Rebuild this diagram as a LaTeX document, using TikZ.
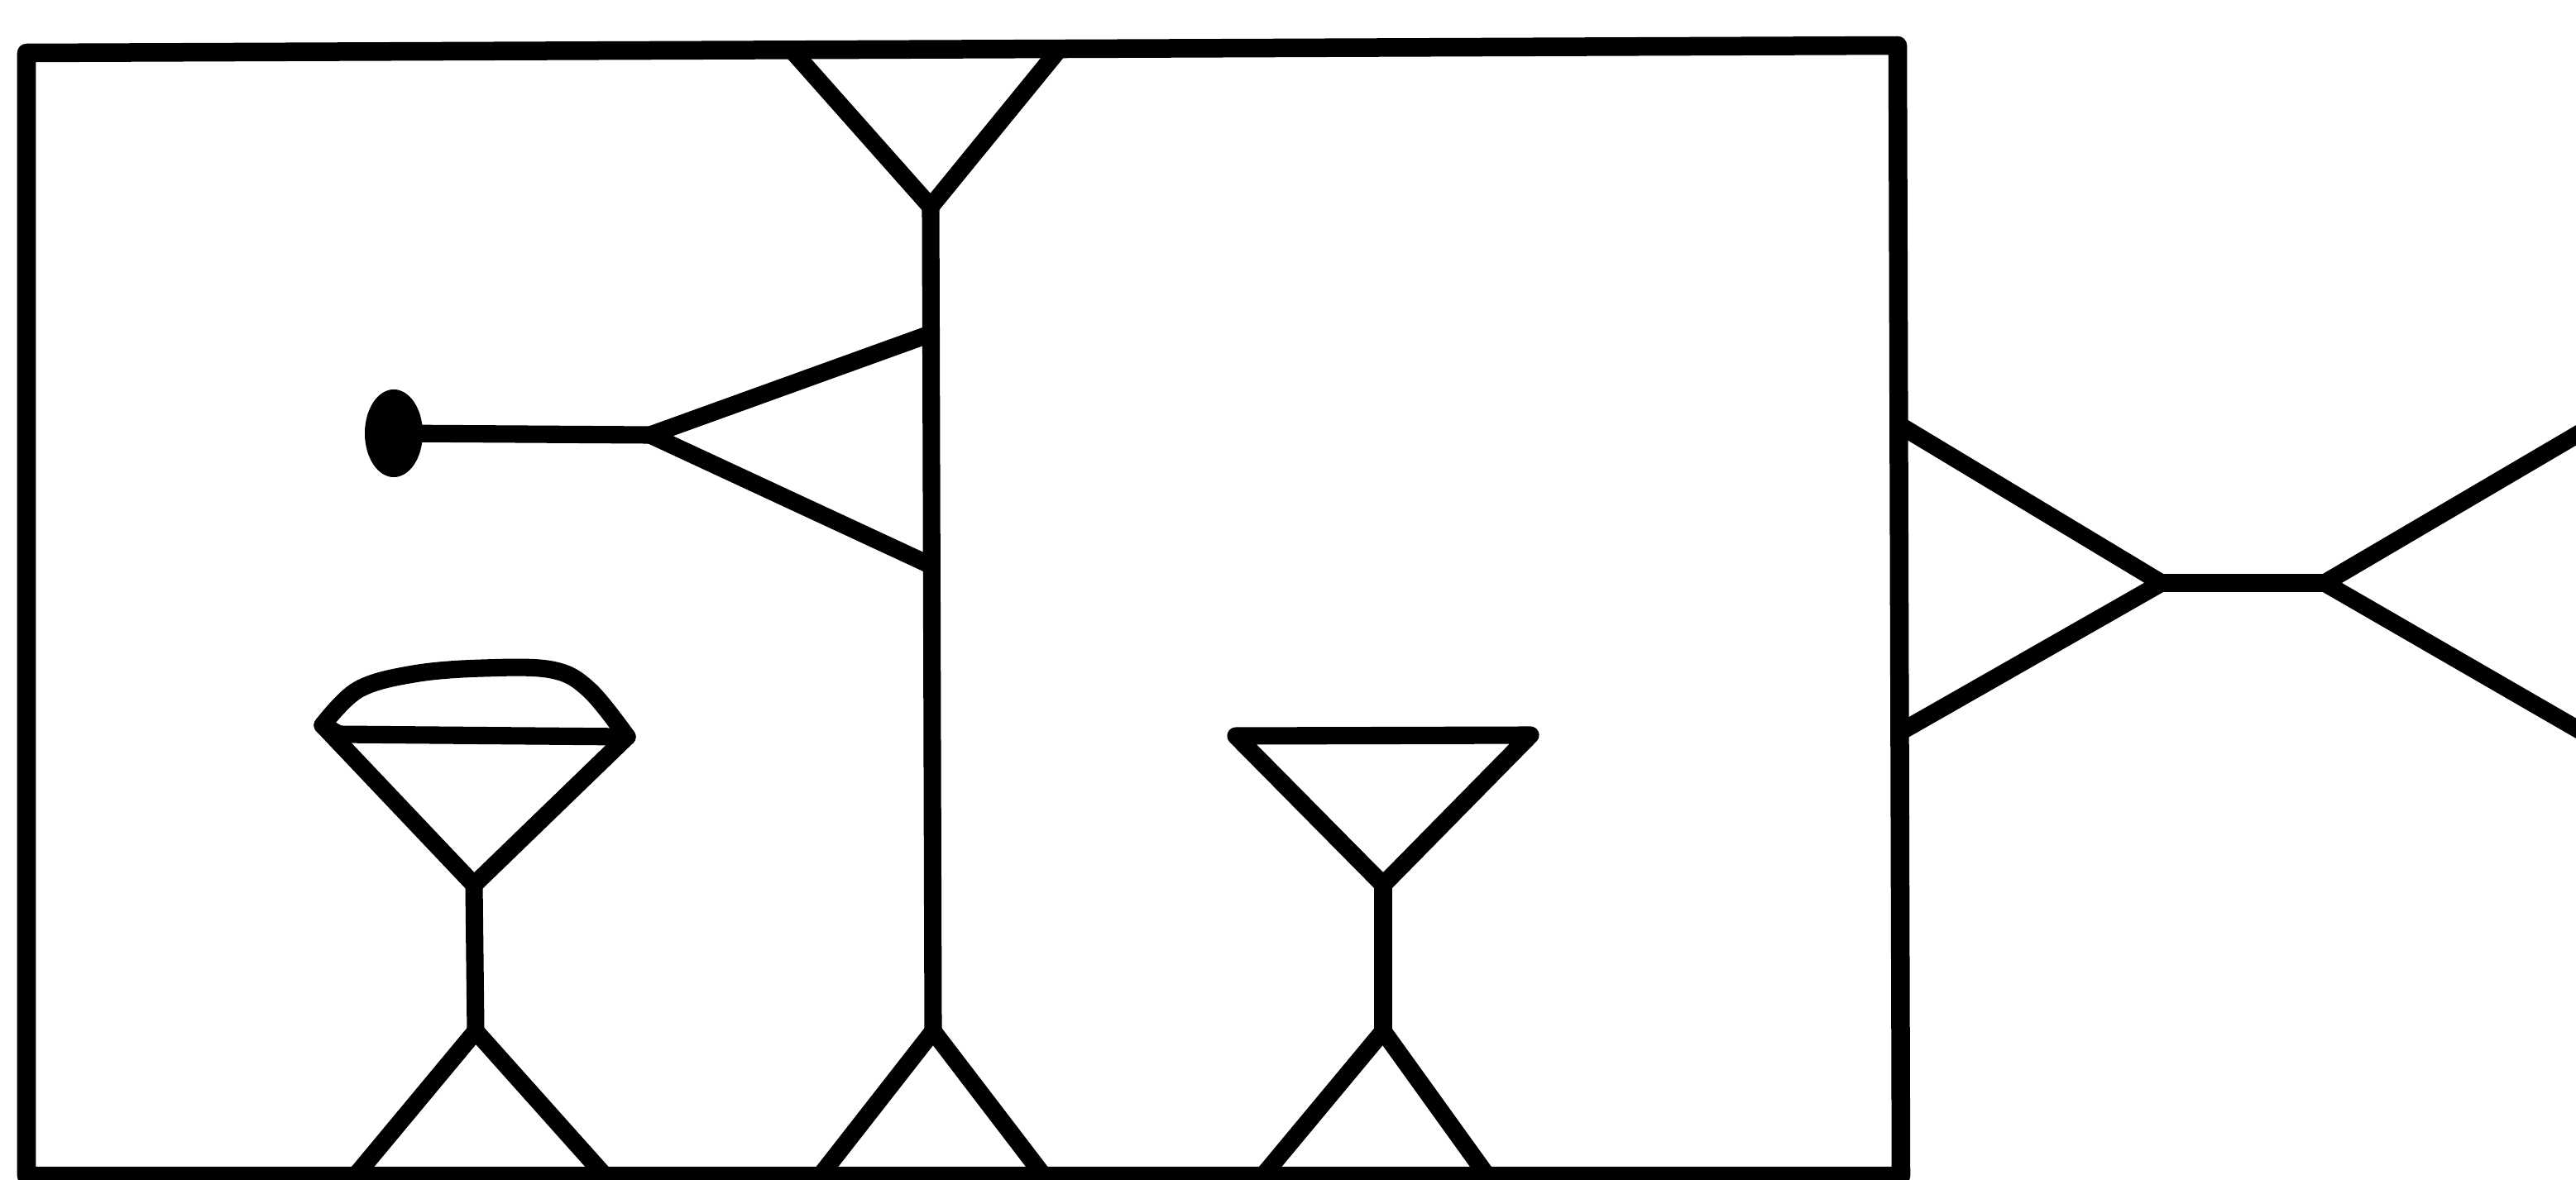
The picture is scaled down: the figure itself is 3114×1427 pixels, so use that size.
\documentclass[tikz,border=0pt]{standalone}
\usetikzlibrary{calc}

\begin{document}
\begin{tikzpicture}[x=0.01cm,y=-0.01cm,line cap=round,line join=round]
  % ----- styles -----
  \tikzset{
    stroke/.style={draw=black,line width=6pt},
    frame/.style={draw=black,line width=6.4pt},
    blob/.style={fill=black}
  }
  \useasboundingbox (0,0) rectangle (3114,1427);
  \clip (0,0) rectangle (3114,1427);

  % ----- geometry -----
  \coordinate (TL) at (32,64);
  \coordinate (TR) at (2294,55);
  \coordinate (BR) at (2298,1422);
  \coordinate (BL) at (32,1422);
  \coordinate (Vtop) at (1125,250);   % apex of the top V
  \coordinate (Vbot) at (1128,1247);  % foot of the central stem
  \coordinate (L1) at (390,877);      % cap corners of the left figure
  \coordinate (R1) at (758,891);
  \coordinate (A1) at (573,1070);     % left figure
  \coordinate (S1) at (575,1247);
  \coordinate (A2) at (1672,1070);    % right figure
  \coordinate (S2) at (1672,1247);
  \coordinate (K1) at (2613,705);     % bow tie
  \coordinate (K2) at (2810,705);
  \coordinate (Dot) at (476,524);

  % ----- frame -----
  \draw[frame] (TL) -- (TR) -- (BR) -- (BL) -- cycle;

  % ----- central stem -----
  \draw[stroke] (960,64) -- (Vtop) -- (1280,60);
  \draw[stroke] (Vtop) -- (Vbot);

  % side triangle with the dot
  \draw[stroke] (1124,404) -- (786,526) -- (1126,684);
  \draw[stroke] (786,526) -- (Dot);
  \fill[blob] (Dot) ellipse [x radius=0.35cm, y radius=0.53cm];

  % ----- left figure (with cap) -----
  \draw[stroke] plot[smooth, tension=0.6] coordinates
    {(L1) (433,834) (500,815) (583,808) (667,810) (712,834) (R1)};
  \draw[stroke] (L1) -- (410,888) -- (R1);
  \draw[stroke] (L1) -- (A1) -- (R1);
  \draw[stroke] (A1) -- (S1);

  % ----- right figure -----
  \draw[stroke] (1494,890) -- (1850,889) -- (A2) -- cycle;
  \draw[stroke] (A2) -- (S2);

  % legs of the three stems
  \foreach \S/\a/\b in {S1/427/734, Vbot/989/1264, S2/1524/1800}{
    \draw[stroke] (\a,1425) -- (\S) -- (\b,1425);
  }

  % ----- bow tie on the right -----
  \draw[stroke] (2301,517) -- (K1) -- (2301,883);
  \draw[stroke] (K1) -- (K2);
  \draw[stroke] (3130,517) -- (K2) -- (3130,890);

\end{tikzpicture}
\end{document}
